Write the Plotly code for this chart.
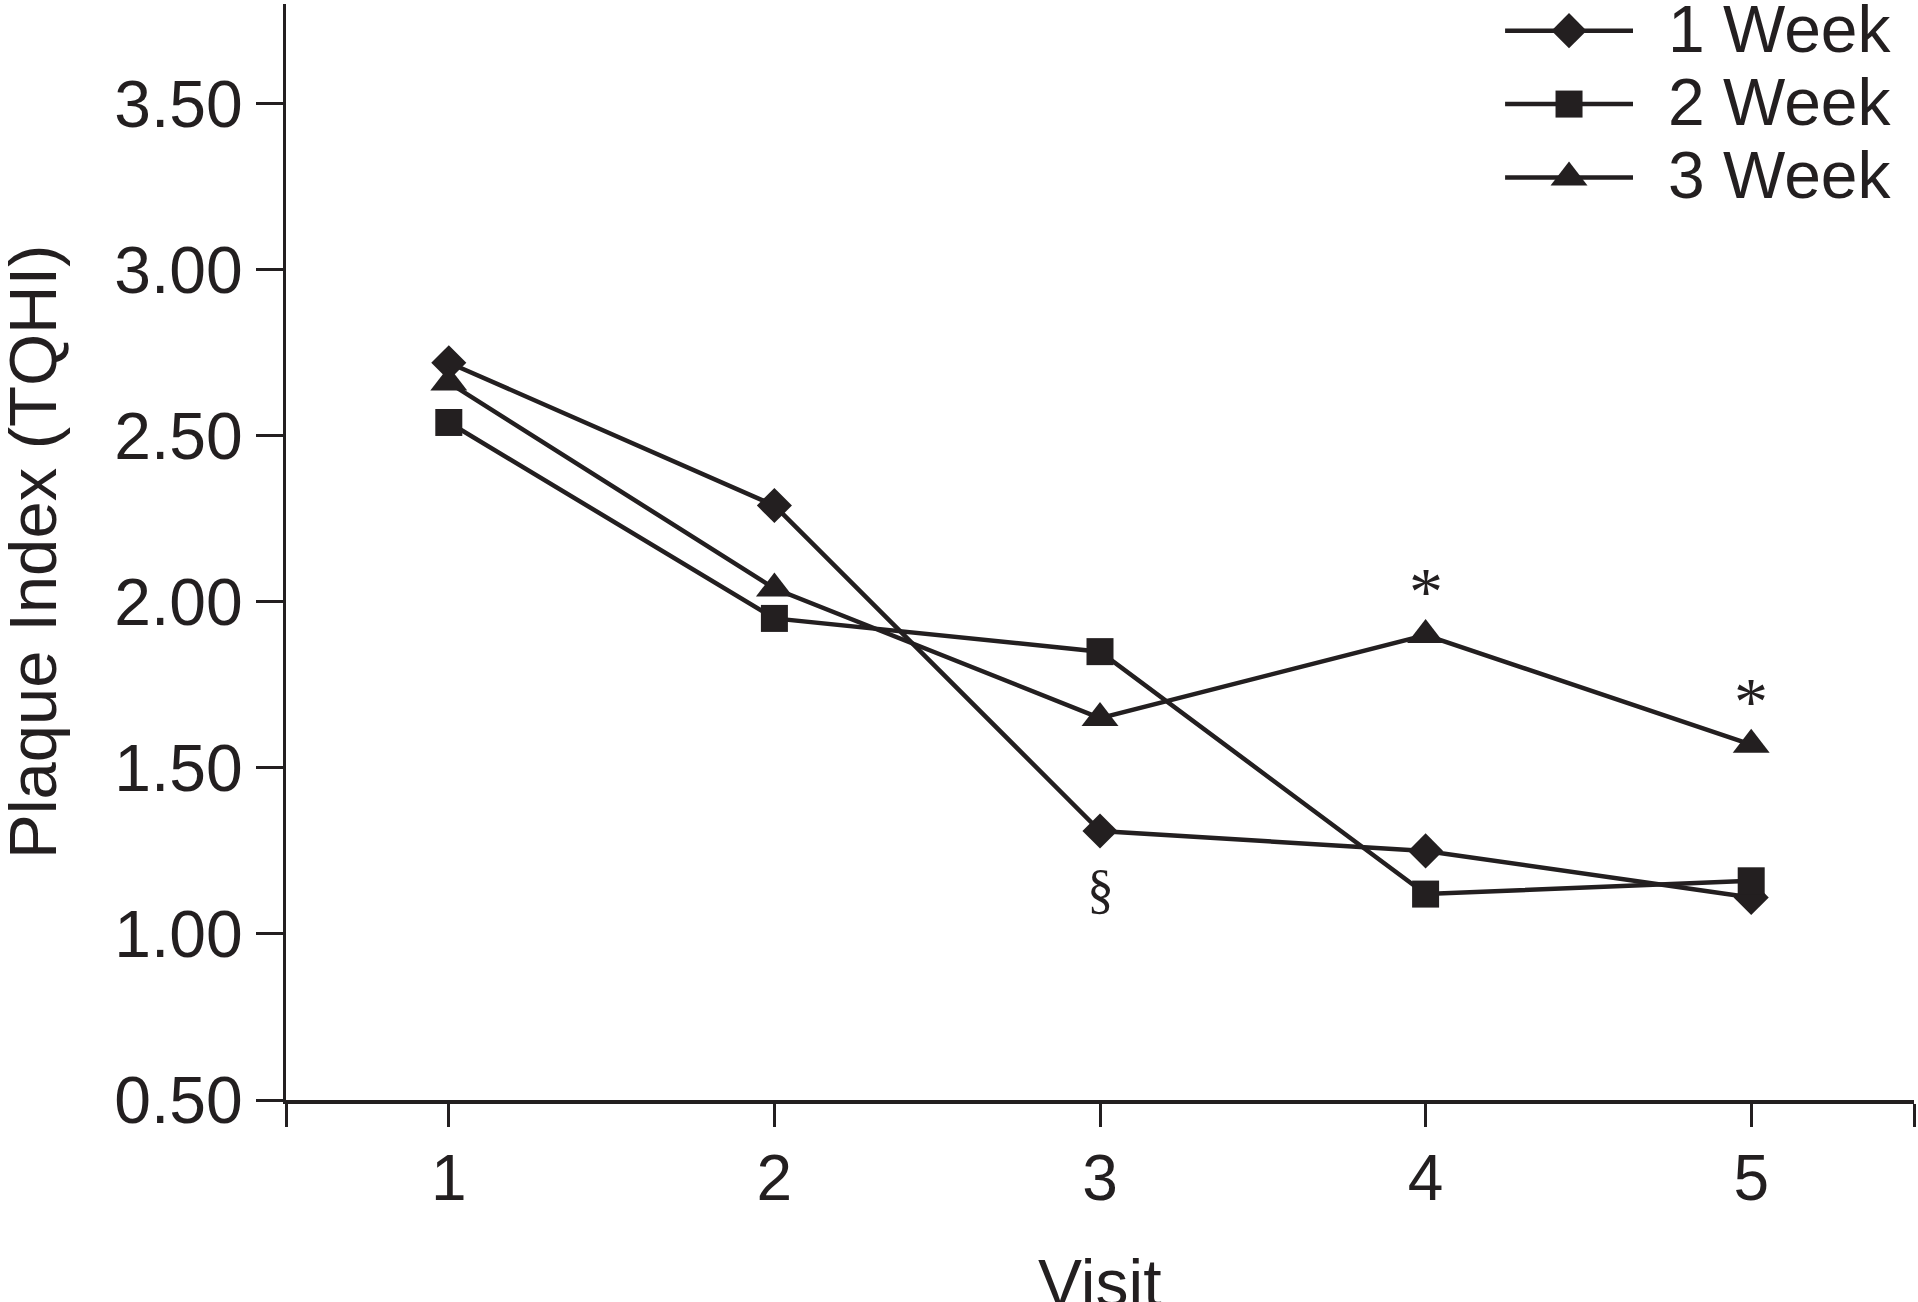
import plotly.graph_objects as go

visits = [1, 2, 3, 4, 5]
series_names = ["1 Week", "2 Week", "3 Week"]
week1 = [2.72, 2.29, 1.31, 1.25, 1.11]
week2 = [2.54, 1.95, 1.85, 1.12, 1.16]
week3 = [2.66, 2.04, 1.65, 1.90, 1.57]
symbols = ["diamond", "square", "triangle-up"]
marker_sizes = [27, 27, 32]

y_ticks = [0.5, 1.0, 1.5, 2.0, 2.5, 3.0, 3.5]
y_ticktext = ["0.50", "1.00", "1.50", "2.00", "2.50", "3.00", "3.50"]
x_ticks = [0.5, 1, 2, 3, 4, 5, 5.5]
x_ticktext = ["", "1", "2", "3", "4", "5", ""]

INK = "#231f20"
SANS = "Arial, Liberation Sans, sans-serif"
SERIF = "Times New Roman, Liberation Serif, serif"

W, H = 1918, 1302
ML, MR, MT, MB = 286, 4, 4, 202

fig = go.Figure()
for name, ys, sym, ms in zip(series_names, [week1, week2, week3], symbols, marker_sizes):
    fig.add_trace(go.Scatter(
        x=visits, y=ys, name=name, mode="lines+markers",
        line=dict(color=INK, width=4.5),
        marker=dict(symbol=sym, size=ms, color=INK, line=dict(width=0)),
        showlegend=False, cliponaxis=False,
    ))

# custom legend drawn on an overlay axis
for i, (name, sym, ms) in enumerate(zip(series_names, symbols, marker_sizes)):
    fig.add_trace(go.Scatter(
        x=[0, 1], y=[i, i], mode="lines",
        line=dict(color=INK, width=4.5),
        xaxis="x2", yaxis="y2", showlegend=False, hoverinfo="skip",
    ))
    fig.add_trace(go.Scatter(
        x=[0.5], y=[i], mode="markers",
        marker=dict(symbol=sym, size=ms, color=INK, line=dict(width=0)),
        xaxis="x2", yaxis="y2", showlegend=False, cliponaxis=False, hoverinfo="skip",
    ))
    fig.add_annotation(x=1, y=i, xref="x2", yref="y2", text=name,
                       showarrow=False, xanchor="left", yanchor="middle",
                       xshift=33, yshift=2,
                       font=dict(family=SANS, size=66, color=INK))

# significance marks
fig.add_annotation(x=4, y=week3[3], text="*", showarrow=False, yshift=44,
                   font=dict(family=SERIF, size=68, color=INK))
fig.add_annotation(x=5, y=week3[4], text="*", showarrow=False, yshift=44,
                   font=dict(family=SERIF, size=68, color=INK))
fig.add_annotation(x=3, y=week1[2], text="§", showarrow=False, yshift=-58,
                   font=dict(family=SERIF, size=54, color=INK))

# axis titles
fig.add_annotation(x=-(ML - 32) / (W - ML - MR), y=0.5, xref="paper", yref="paper",
                   text="Plaque Index (TQHI)", textangle=-90, showarrow=False,
                   xanchor="center", yanchor="middle",
                   font=dict(family=SANS, size=67, color=INK))
fig.add_annotation(x=3, y=0, xref="x", yref="paper", text="Visit", showarrow=False,
                   xanchor="center", yanchor="middle", yshift=-(1283 - 1100),
                   font=dict(family=SANS, size=66, color=INK))

fig.update_layout(
    width=W, height=H,
    margin=dict(l=ML, r=MR, t=MT, b=MB),
    paper_bgcolor="white", plot_bgcolor="white",
    showlegend=False,
    xaxis=dict(range=[0.5, 5.5], tickvals=x_ticks, ticktext=x_ticktext,
               showgrid=False, zeroline=False, showline=True, linecolor=INK, linewidth=4,
               ticks="outside", ticklen=23, tickwidth=2.5, tickcolor=INK,
               ticklabelstandoff=-4,
               tickfont=dict(family=SANS, size=64, color=INK)),
    yaxis=dict(range=[0.5, 3.8], tickvals=y_ticks, ticktext=y_ticktext,
               showgrid=False, zeroline=False, showline=True, linecolor=INK, linewidth=3,
               ticks="outside", ticklen=27, tickwidth=2.5, tickcolor=INK,
               ticklabelstandoff=0,
               tickfont=dict(family=SANS, size=66, color=INK)),
    xaxis2=dict(domain=[0.7488, 0.8274], range=[0, 1], visible=False, anchor="y2"),
    yaxis2=dict(domain=[0.8283, 0.9891], range=[2.2, -0.2], visible=False, anchor="x2"),
)

fig.write_html("out.html", config={"displayModeBar": False},
               post_script="document.body.style.margin='0';")
